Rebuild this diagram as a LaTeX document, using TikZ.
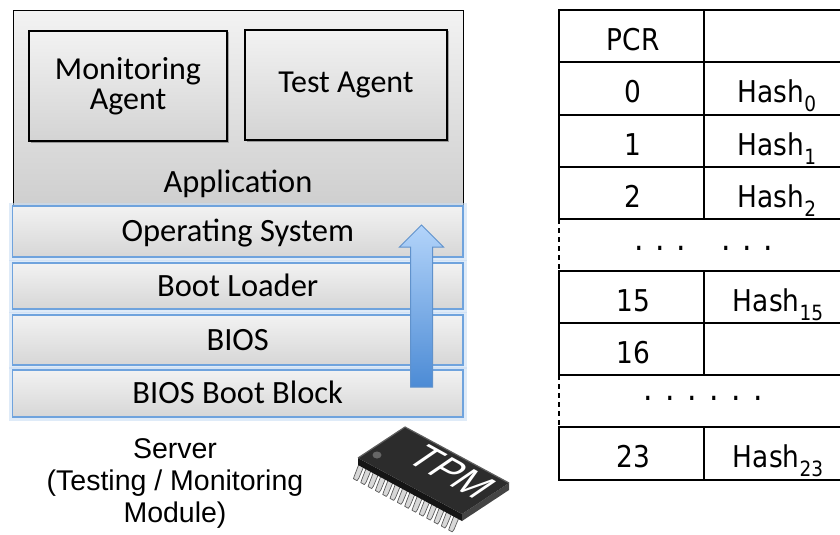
\documentclass[tikz,border=0pt]{standalone}
\usepackage{fontspec}
\setmainfont{Carlito}
\newfontfamily\tabfont[FakeStretch=0.88]{DejaVu Sans}
\newfontfamily\capfont{Liberation Sans}
\usetikzlibrary{calc,shadows}

\definecolor{layerblue}{HTML}{6FA3DD}
\definecolor{glowblue}{HTML}{C9DDF3}
\definecolor{arrowtop}{HTML}{B3D4FA}
\definecolor{arrowbot}{HTML}{4C8BD5}
\definecolor{arrowedge}{HTML}{6092CC}
\definecolor{chiptop}{HTML}{2C2C2C}
\definecolor{chipside}{HTML}{151515}
\definecolor{chipedge}{HTML}{5E5E5E}
\definecolor{pinfill}{HTML}{D8D8D8}
\definecolor{pinedge}{HTML}{5A5A5A}

% subscript index of a hash value
\newcommand\hashsub[1]{\raisebox{-9pt}{\fontsize{21}{21}\selectfont #1}}

\begin{document}
\begin{tikzpicture}[x=1pt,y=-1pt,
  appbox/.style={draw=black, line width=1.2pt, top color=black!5, bottom color=black!19, inner sep=0pt},
  agent/.style={draw=black, line width=1.5pt, top color=black!5, bottom color=black!17,
    drop shadow={shadow xshift=1.5pt, shadow yshift=-1.5pt, opacity=0.3, fill=black},
    align=center, inner sep=0pt, font=\fontsize{32}{30}\selectfont},
  stacktext/.style={font=\fontsize{32.5}{38}\selectfont, inner sep=0pt, text height=20.6pt, text depth=0pt},
  layer/.style={draw=layerblue, line width=1.3pt, top color=black!5, bottom color=black!16,
    minimum width=450.5pt, inner sep=0pt, font=\fontsize{32.5}{38}\selectfont,
    text height=20.6pt, text depth=0pt,
    preaction={draw=glowblue, line width=7pt, opacity=0.6}},
  arrowfill/.style={top color=arrowtop, bottom color=arrowbot, draw=arrowedge, line width=1pt, line join=miter},
  servertxt/.style={font=\capfont\fontsize{28.5}{32}\selectfont, align=center, inner sep=0pt},
  tabline/.style={draw=black, line width=1.5pt, line cap=rect},
  tabdash/.style={draw=black, line width=1.2pt, dash pattern=on 5pt off 4pt},
  tabtxt/.style={font=\tabfont\fontsize{30}{32}\selectfont, inner sep=0pt, text height=21.8pt, text depth=0pt},
  tabdots/.style={font=\tabfont\fontsize{34}{34}\selectfont, inner sep=0pt, anchor=base},
  pin/.style={fill=pinfill, draw=pinedge, line width=0.7pt, line join=round},
]
\useasboundingbox (0,0) rectangle (840,535);

% ---------------- server software stack ----------------
\node[appbox, anchor=north west, minimum width=450.5pt, minimum height=196pt] (app) at (12.5,10) {};
\node[agent, minimum width=198pt, minimum height=110pt] (monitor) at (128,86) {Monitoring\\Agent};
\node[agent, minimum width=202pt, minimum height=110pt] (tester) at (346,85) {Test Agent};
\node[stacktext] (applabel) at (238,182) {Application};

\node[layer, minimum height=51pt] (os)   at (237.75,231.5) {Operating System};
\node[layer, minimum height=46pt] (boot) at (237.75,286)   {Boot Loader};
\node[layer, minimum height=50pt] (bios) at (237.75,340)   {BIOS};
\node[layer, minimum height=47pt] (bbb)  at (237.75,393.5) {BIOS Boot Block};

% chain of trust: measurement order from the boot block upwards
\path[arrowfill] (421.5,225) -- (443.5,247) -- (432.5,247) -- (432.5,387)
  -- (410.5,387) -- (410.5,247) -- (399.5,247) -- cycle;

\node[servertxt] (server) at (175,483) {Server\\(Testing / Monitoring\\Module)};

% ---------------- TPM chip ----------------
\coordinate (L) at (358,458);
\coordinate (T) at (405,427);
\coordinate (R) at (509,483);
\coordinate (B) at (462,514);
\coordinate (Lb) at (358,465);
\coordinate (Bb) at (462,521);
\coordinate (Rb) at (509,490);
% leads along the near long side
\foreach \i in {0,...,13} {
  \pgfmathsetmacro\t{(\i+0.55)/14.2}
  \coordinate (pa) at ($(Lb)!\t!(Bb)$);
  \path[pin] ($(pa)+(-2.4,-5)$) -- ($(pa)+(2.4,-2.4)$) -- ($(pa)+(-3.2,11)$)
    -- ($(pa)+(-5,13.5)$) -- ($(pa)+(-8.6,11.5)$) -- ($(pa)+(-7.6,8.6)$) -- cycle;
}
\fill[chipside] (L) -- (B) -- (Bb) -- (Lb) -- cycle;
\fill[chipside!80!white] (B) -- (R) -- (Rb) -- (Bb) -- cycle;
\fill[chiptop] (L) -- (T) -- (R) -- (B) -- cycle;
\draw[chipedge, line width=1.2pt, line join=round] (L) -- (T) -- (R);
\fill[black!60] (377,455) ellipse (4.5pt and 3.5pt);
\begin{scope}[shift={(452,472)}, rotate=-29, xslant=0.5]
  \node[transform shape, text=white, font=\capfont\fontsize{38}{40}\selectfont, inner sep=0pt] (tpm) at (0,0) {TPM};
\end{scope}

% ---------------- PCR table ----------------
\foreach \yy in {10,62,115,167,219,271,323,375,427,480}
  \draw[tabline] (559,\yy) -- (840,\yy);
\draw[tabline] (559,10) -- (559,219) (559,271) -- (559,375) (559,427) -- (559,480);
\draw[tabline] (704,10) -- (704,219) (704,271) -- (704,375) (704,427) -- (704,480);
\draw[tabdash] (559,219) -- (559,271) (559,375) -- (559,427);

\node[tabtxt] (pcrhead) at (633,39.5)  {PCR};
\node[tabtxt] (pcr0)    at (633,92)    {0};
\node[tabtxt] (pcr1)    at (633,144.5) {1};
\node[tabtxt] (pcr2)    at (633,196.5) {2};
\node[tabtxt] (pcr15)   at (633,300.5) {15};
\node[tabtxt] (pcr16)   at (633,352.5) {16};
\node[tabtxt] (pcr23)   at (633,457)   {23};
\node[tabtxt] (hash0)   at (777,92)    {Hash\hashsub{0}};
\node[tabtxt] (hash1)   at (777,144.5) {Hash\hashsub{1}};
\node[tabtxt] (hash2)   at (777,196.5) {Hash\hashsub{2}};
\node[tabtxt] (hash15)  at (778,300.5) {Hash\hashsub{15}};
\node[tabtxt] (hash23)  at (778,457)   {Hash\hashsub{23}};
\node[tabdots] (gapA) at (704,250) {.\hspace{11.5pt}.\hspace{11.5pt}.\hspace{35.5pt}.\hspace{11.5pt}.\hspace{11.5pt}.};
\node[tabdots] (gapB) at (703,400) {.\hspace{12.5pt}.\hspace{12.5pt}.\hspace{12.5pt}.\hspace{12.5pt}.\hspace{12.5pt}.};
\end{tikzpicture}
\end{document}
